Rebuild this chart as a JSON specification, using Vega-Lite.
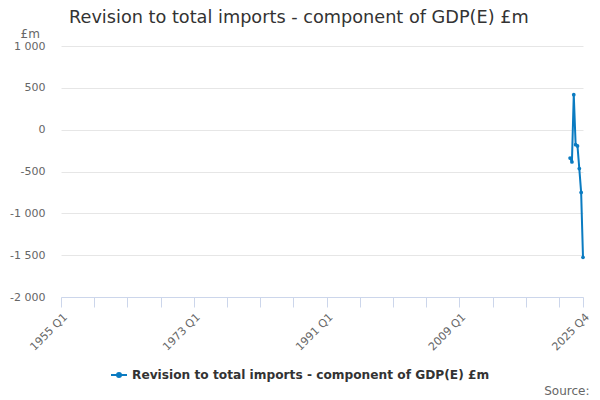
{
  "$schema": "https://vega.github.io/schema/vega-lite/v6.json",
  "width": 522,
  "height": 251,
  "autosize": "none",
  "padding": {"left": 61, "top": 46, "right": 17, "bottom": 103},
  "background": "white",
  "config": {
    "font": "DejaVu Sans",
    "view": {"stroke": null}
  },
  "title": {
    "text": "Revision to total imports - component of GDP(E) £m",
    "anchor": "start",
    "frame": "group",
    "dx": 8,
    "fontSize": 17.7,
    "fontWeight": "normal",
    "color": "#333333",
    "font": "DejaVu Sans",
    "offset": 0
  },
  "data": {
    "values": [
      {"date": "2024-01-01", "value": -340, "series": "Revision to total imports - component of GDP(E) £m"},
      {"date": "2024-04-01", "value": -385, "series": "Revision to total imports - component of GDP(E) £m"},
      {"date": "2024-07-01", "value": 418, "series": "Revision to total imports - component of GDP(E) £m"},
      {"date": "2024-10-01", "value": -180, "series": "Revision to total imports - component of GDP(E) £m"},
      {"date": "2025-01-01", "value": -195, "series": "Revision to total imports - component of GDP(E) £m"},
      {"date": "2025-04-01", "value": -465, "series": "Revision to total imports - component of GDP(E) £m"},
      {"date": "2025-07-01", "value": -750, "series": "Revision to total imports - component of GDP(E) £m"},
      {"date": "2025-10-01", "value": -1525, "series": "Revision to total imports - component of GDP(E) £m"}
    ]
  },
  "mark": {"type": "line", "strokeWidth": 2, "point": {"size": 14, "filled": true}},
  "encoding": {
    "x": {
      "field": "date",
      "type": "temporal",
      "scale": {
        "type": "utc",
        "domain": [
          {"year": 1955, "month": 1, "date": 1, "utc": true},
          {"year": 2025, "month": 10, "date": 1, "utc": true}
        ]
      },
      "axis": {
        "values": [
          {"year": 1955, "month": 1, "date": 1, "utc": true},
          {"year": 1959, "month": 7, "date": 1, "utc": true},
          {"year": 1964, "month": 1, "date": 1, "utc": true},
          {"year": 1968, "month": 7, "date": 1, "utc": true},
          {"year": 1973, "month": 1, "date": 1, "utc": true},
          {"year": 1977, "month": 7, "date": 1, "utc": true},
          {"year": 1982, "month": 1, "date": 1, "utc": true},
          {"year": 1986, "month": 7, "date": 1, "utc": true},
          {"year": 1991, "month": 1, "date": 1, "utc": true},
          {"year": 1995, "month": 7, "date": 1, "utc": true},
          {"year": 2000, "month": 1, "date": 1, "utc": true},
          {"year": 2004, "month": 7, "date": 1, "utc": true},
          {"year": 2009, "month": 1, "date": 1, "utc": true},
          {"year": 2013, "month": 7, "date": 1, "utc": true},
          {"year": 2018, "month": 1, "date": 1, "utc": true},
          {"year": 2022, "month": 7, "date": 1, "utc": true},
          {"year": 2025, "month": 10, "date": 1, "utc": true}
        ],
        "labelExpr": "indexof([1955, 1973, 1991, 2009, 2025], utcyear(datum.value)) >= 0 ? utcFormat(datum.value, '%Y') + ' Q' + utcquarter(datum.value) : ''",
        "labelAngle": -45,
        "labelOverlap": false,
        "labelFontSize": 11,
        "labelColor": "#666666",
        "labelPadding": 4,
        "grid": false,
        "domainColor": "#ccd6eb",
        "tickColor": "#ccd6eb",
        "tickSize": 10,
        "title": "Source:",
        "titleFontSize": 12,
        "titleFontWeight": "normal",
        "titleColor": "#666666",
        "titleAnchor": "end",
        "titleAlign": "right",
        "titleBaseline": "middle",
        "titleX": 528,
        "titleY": 93
      }
    },
    "y": {
      "field": "value",
      "type": "quantitative",
      "scale": {"domain": [-2000, 1000], "nice": false, "zero": false},
      "axis": {
        "values": [-2000, -1500, -1000, -500, 0, 500, 1000],
        "labelExpr": "(datum.value < 0 ? '-' : '') + replace(format(abs(datum.value), ','), ',', ' ')",
        "labelFontSize": 11,
        "labelColor": "#666666",
        "labelPadding": 16,
        "domain": false,
        "ticks": false,
        "gridColor": "#e6e6e6",
        "title": "£m",
        "titleAngle": 0,
        "titleFontSize": 12,
        "titleFontWeight": "normal",
        "titleColor": "#666666",
        "titleAlign": "left",
        "titleBaseline": "middle",
        "titleX": -41,
        "titleY": -13
      }
    },
    "color": {
      "field": "series",
      "type": "nominal",
      "scale": {"range": ["#0a7bc1"]},
      "legend": {
        "orient": "none",
        "legendX": 49,
        "legendY": 320,
        "title": null,
        "labelFontSize": 12.2,
        "labelFontWeight": "bold",
        "labelColor": "#333333",
        "labelLimit": 500,
        "symbolType": "M-1,0H1M-0.25,0a0.25,0.25 0 1,0 0.5,0a0.25,0.25 0 1,0 -0.5,0",
        "symbolSize": 256,
        "symbolStrokeWidth": 2,
        "symbolFillColor": "#0a7bc1",
        "symbolOffset": 0
      }
    }
  }
}
